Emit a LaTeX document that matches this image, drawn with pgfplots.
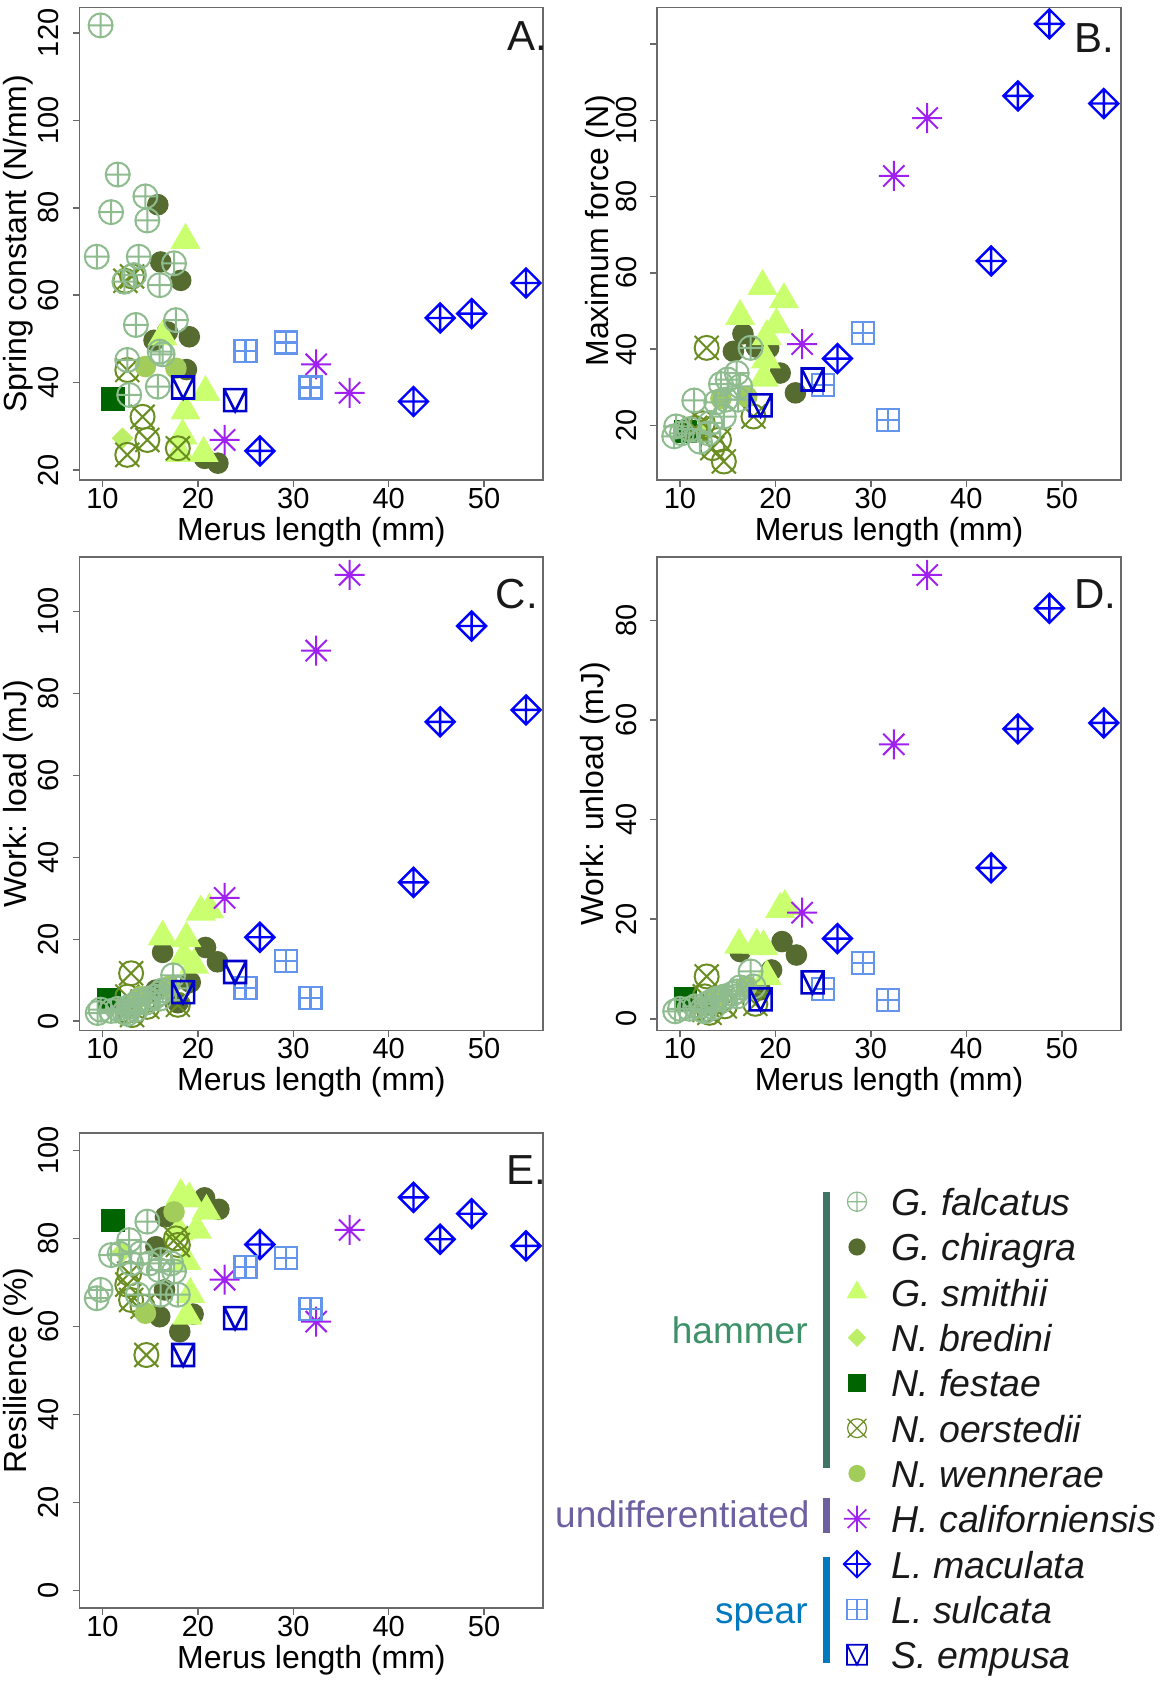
\documentclass[border=0pt]{standalone}
\usepackage{fontspec}
\setmainfont{Liberation Sans}
\usepackage{pgfplots}
\pgfplotsset{compat=1.18}

% ---------- colours ----------
\definecolor{cF}{RGB}{143,188,143}
\definecolor{cC}{RGB}{85,107,47}
\definecolor{cS}{RGB}{202,255,112}
\definecolor{cB}{RGB}{188,238,104}
\definecolor{cN}{RGB}{0,100,0}
\definecolor{cO}{RGB}{107,142,35}
\definecolor{cW}{RGB}{162,205,90}
\definecolor{cH}{RGB}{160,32,240}
\definecolor{cM}{RGB}{0,0,255}
\definecolor{cL}{RGB}{100,149,237}
\definecolor{cE}{RGB}{0,0,205}
\definecolor{frame}{RGB}{105,105,105}
\definecolor{txt}{RGB}{25,25,25}
\definecolor{gHamTxt}{RGB}{60,145,105}
\definecolor{gHamBar}{RGB}{62,117,102}
\definecolor{gUnd}{RGB}{110,96,160}
\definecolor{gSpr}{RGB}{0,121,191}

% ---------- fonts ----------
\newcommand{\tickfont}{\fontsize{14.5pt}{17pt}\selectfont}
\newcommand{\labfont}{\fontsize{16pt}{19pt}\selectfont}
\newcommand{\legfont}{\fontsize{18.75pt}{22pt}\selectfont\itshape}
\newcommand{\grpfont}{\fontsize{18.5pt}{22pt}\selectfont}
\newcommand{\letfont}{\fontsize{21pt}{25pt}\selectfont}

% ---------- plot symbols in the style of R's pch ----------
\pgfdeclareplotmark{Rdot}{\pgfpathcircle{\pgfpointorigin}{\pgfplotmarksize}\pgfusepathqfill}
\pgfdeclareplotmark{Rtri}{%
  \pgfpathmoveto{\pgfqpoint{0pt}{\pgfplotmarksize}}%
  \pgfpathlineto{\pgfqpoint{.8660254\pgfplotmarksize}{-.5\pgfplotmarksize}}%
  \pgfpathlineto{\pgfqpoint{-.8660254\pgfplotmarksize}{-.5\pgfplotmarksize}}%
  \pgfpathclose\pgfusepathqfill}
\pgfdeclareplotmark{Rdiam}{%
  \pgfpathmoveto{\pgfqpoint{0pt}{\pgfplotmarksize}}%
  \pgfpathlineto{\pgfqpoint{\pgfplotmarksize}{0pt}}%
  \pgfpathlineto{\pgfqpoint{0pt}{-\pgfplotmarksize}}%
  \pgfpathlineto{\pgfqpoint{-\pgfplotmarksize}{0pt}}%
  \pgfpathclose\pgfusepathqfill}
\pgfdeclareplotmark{Rsq}{%
  \pgfpathrectanglecorners{\pgfqpoint{-\pgfplotmarksize}{-\pgfplotmarksize}}{\pgfqpoint{\pgfplotmarksize}{\pgfplotmarksize}}%
  \pgfusepathqfill}
\pgfdeclareplotmark{Rcplus}{%
  \pgfpathcircle{\pgfpointorigin}{\pgfplotmarksize}%
  \pgfpathmoveto{\pgfqpoint{-\pgfplotmarksize}{0pt}}\pgfpathlineto{\pgfqpoint{\pgfplotmarksize}{0pt}}%
  \pgfpathmoveto{\pgfqpoint{0pt}{-\pgfplotmarksize}}\pgfpathlineto{\pgfqpoint{0pt}{\pgfplotmarksize}}%
  \pgfusepathqstroke}
\pgfdeclareplotmark{Rcx}{%
  \pgfpathcircle{\pgfpointorigin}{\pgfplotmarksize}%
  \pgfpathmoveto{\pgfqpoint{-\pgfplotmarksize}{-\pgfplotmarksize}}\pgfpathlineto{\pgfqpoint{\pgfplotmarksize}{\pgfplotmarksize}}%
  \pgfpathmoveto{\pgfqpoint{-\pgfplotmarksize}{\pgfplotmarksize}}\pgfpathlineto{\pgfqpoint{\pgfplotmarksize}{-\pgfplotmarksize}}%
  \pgfusepathqstroke}
\pgfdeclareplotmark{Rdplus}{%
  \pgfpathmoveto{\pgfqpoint{0pt}{\pgfplotmarksize}}%
  \pgfpathlineto{\pgfqpoint{\pgfplotmarksize}{0pt}}%
  \pgfpathlineto{\pgfqpoint{0pt}{-\pgfplotmarksize}}%
  \pgfpathlineto{\pgfqpoint{-\pgfplotmarksize}{0pt}}%
  \pgfpathclose
  \pgfpathmoveto{\pgfqpoint{-\pgfplotmarksize}{0pt}}\pgfpathlineto{\pgfqpoint{\pgfplotmarksize}{0pt}}%
  \pgfpathmoveto{\pgfqpoint{0pt}{-\pgfplotmarksize}}\pgfpathlineto{\pgfqpoint{0pt}{\pgfplotmarksize}}%
  \pgfusepathqstroke}
\pgfdeclareplotmark{Rsplus}{%
  \pgfpathrectanglecorners{\pgfqpoint{-\pgfplotmarksize}{-\pgfplotmarksize}}{\pgfqpoint{\pgfplotmarksize}{\pgfplotmarksize}}%
  \pgfpathmoveto{\pgfqpoint{-\pgfplotmarksize}{0pt}}\pgfpathlineto{\pgfqpoint{\pgfplotmarksize}{0pt}}%
  \pgfpathmoveto{\pgfqpoint{0pt}{-\pgfplotmarksize}}\pgfpathlineto{\pgfqpoint{0pt}{\pgfplotmarksize}}%
  \pgfusepathqstroke}
\pgfdeclareplotmark{RsV}{%
  \pgfpathrectanglecorners{\pgfqpoint{-\pgfplotmarksize}{-\pgfplotmarksize}}{\pgfqpoint{\pgfplotmarksize}{\pgfplotmarksize}}%
  \pgfpathmoveto{\pgfqpoint{-\pgfplotmarksize}{\pgfplotmarksize}}%
  \pgfpathlineto{\pgfqpoint{0pt}{-\pgfplotmarksize}}%
  \pgfpathlineto{\pgfqpoint{\pgfplotmarksize}{\pgfplotmarksize}}%
  \pgfusepathqstroke}
\pgfdeclareplotmark{Rast}{%
  \pgfpathmoveto{\pgfqpoint{-\pgfplotmarksize}{0pt}}\pgfpathlineto{\pgfqpoint{\pgfplotmarksize}{0pt}}%
  \pgfpathmoveto{\pgfqpoint{0pt}{-\pgfplotmarksize}}\pgfpathlineto{\pgfqpoint{0pt}{\pgfplotmarksize}}%
  \pgfpathmoveto{\pgfqpoint{-.7071\pgfplotmarksize}{-.7071\pgfplotmarksize}}\pgfpathlineto{\pgfqpoint{.7071\pgfplotmarksize}{.7071\pgfplotmarksize}}%
  \pgfpathmoveto{\pgfqpoint{-.7071\pgfplotmarksize}{.7071\pgfplotmarksize}}\pgfpathlineto{\pgfqpoint{.7071\pgfplotmarksize}{-.7071\pgfplotmarksize}}%
  \pgfusepathqstroke}

\tikzset{
  letter/.style={font=\letfont, anchor=base east, inner sep=0pt, text=txt},
  legtxt/.style={anchor=base west, inner sep=0pt, xshift=17pt, yshift=-7pt, font=\legfont, text=txt},
}

\pgfplotsset{
  sp-c/.style={only marks, mark=Rdot,   mark size=5.4pt,  color=cC},
  sp-s/.style={only marks, mark=Rtri,   mark size=8.66pt, color=cS},
  sp-b/.style={only marks, mark=Rdiam,  mark size=5.4pt,  color=cB},
  sp-n/.style={only marks, mark=Rsq,    mark size=5.9pt,  color=cN},
  sp-o/.style={only marks, mark=Rcx,    mark size=6pt,    color=cO, line width=1pt},
  sp-w/.style={only marks, mark=Rdot,   mark size=5.4pt,  color=cW},
  sp-f/.style={only marks, mark=Rcplus, mark size=6pt,    color=cF, line width=1pt},
  sp-h/.style={only marks, mark=Rast,   mark size=7.5pt,  color=cH, line width=1pt},
  sp-m/.style={only marks, mark=Rdplus, mark size=7.25pt, color=cM, line width=1.2pt},
  sp-l/.style={only marks, mark=Rsplus, mark size=5.5pt,  color=cL, line width=1.1pt},
  sp-e/.style={only marks, mark=RsV,    mark size=5.5pt,  color=cE, line width=1.3pt},
  Rpanel/.style={
    scale only axis, anchor=south west, clip mode=individual,
    xmin=7.6, xmax=56.2, xtick={10,20,30,40,50},
    tick align=outside, tick pos=left, major tick length=3.5pt,
    every tick/.style={draw=frame, line width=0.75pt},
    axis line style={draw=frame, line width=0.9pt},
    /pgf/number format/assume math mode=true,
    scaled ticks=false,
    ticklabel style={font=\tickfont, text=black},
    xticklabel style={anchor=center, yshift=-5.7pt},
    yticklabel style={xshift=-11.9pt, rotate=90, anchor=center},
    every axis x label/.style={at={(axis description cs:0.5,0)}, anchor=center, yshift=-26pt, font=\labfont, text=black},
    every axis y label/.style={at={(axis description cs:0,0.5)}, xshift=-30.7pt, rotate=90, anchor=center, font=\labfont, text=black},
    xlabel={Merus length (mm)},
  },
}

\begin{document}
\begin{tikzpicture}
\path[use as bounding box] (0,0) rectangle (582.5pt,843pt);

% ================= A: spring constant =================
\begin{axis}[Rpanel, at={(39.8pt,603.1pt)}, width=231.8pt, height=236.15pt,
  ymin=17.8, ymax=125.8, ytick={20,40,60,80,100,120}, ylabel={Spring constant (N/mm)}]
\addplot[sp-c] coordinates {(15.8,80.7) (16.1,67.6) (18.2,63.4) (15.4,49.7) (19.1,50.5) (16.8,51.6) (22.1,21.6) (20.7,22.7) (18.8,43.0)};
\addplot[sp-s] coordinates {(18.7,72.6) (16.3,50.5) (20.8,37.8) (18.7,33.6) (18.4,27.9) (20.6,23.9) (18.1,23.9)};
\addplot[sp-b] coordinates {(12.1,27.3)};
\addplot[sp-n] coordinates {(11.1,36.3)};
\addplot[sp-o] coordinates {(12.4,63.3) (13.1,64.3) (12.6,42.9) (14.2,32.2) (14.7,26.9) (12.6,23.5) (17.9,25.0)};
\addplot[sp-w] coordinates {(14.5,43.7) (17.7,43.3)};
\addplot[sp-f] coordinates {(9.8,121.7) (11.6,87.6) (14.5,82.6) (10.9,79.0) (14.7,77.1) (9.4,68.8) (13.8,68.8) (17.5,67.3) (12.3,63.1) (13.3,64.6) (16.0,62.3) (13.5,53.2) (17.7,54.3) (16.0,47.1) (16.3,46.5) (12.6,45.2) (15.8,39.1) (12.8,37.2)};
\addplot[sp-h] coordinates {(22.8,26.9) (32.4,44.2) (35.9,37.7)};
\addplot[sp-m] coordinates {(26.5,24.4) (42.6,35.7) (45.4,54.8) (48.7,55.8) (54.4,62.8)};
\addplot[sp-l] coordinates {(25.0,47.3) (29.2,49.2) (31.8,38.9)};
\addplot[sp-e] coordinates {(18.45,38.9) (23.9,36.0)};
\node[letter, xshift=2pt, yshift=-21.5pt] at (rel axis cs:1,1) {A.};
\end{axis}

% ================= B: maximum force =================
\begin{axis}[Rpanel, at={(328.5pt,603.1pt)}, width=232pt, height=236.15pt,
  ymin=5.7, ymax=129.6, ytick={20,40,60,80,100,120}, yticklabels={20,40,60,80,100,{}},
  ylabel={Maximum force (N)}, ylabel style={at={(axis description cs:0.0095,0.5275)}}]
\addplot[sp-c] coordinates {(16.6,44.0) (15.6,39.4) (19.3,40.3) (20.5,33.7) (22.1,28.5) (18.0,40.5)};
\addplot[sp-s] coordinates {(18.65,56.5) (20.9,53.0) (16.3,48.6) (20.1,46.4) (19.1,43.3) (19.0,37.2) (18.8,32.4)};
\addplot[sp-b] coordinates {(12.3,18.0)};
\addplot[sp-n] coordinates {(10.6,18.4)};
\addplot[sp-o] coordinates {(12.8,40.3) (17.7,22.3) (14.6,10.5) (14.1,16.2) (12.4,20.5) (13.4,14.0) (11.6,19.3)};
\addplot[sp-w] coordinates {(14.3,27.0) (17.0,27.5)};
\addplot[sp-f] coordinates {(17.4,40.3) (15.95,33.7) (14.3,30.8) (16.3,30.2) (15.0,32.0) (11.5,26.5) (14.8,26.7) (13.8,26.0) (14.6,22.3) (16.1,26.7) (9.6,19.7) (9.4,17.1) (12.1,15.7) (13.2,20.6) (10.2,17.9) (13.0,17.9) (11.0,19.0)};
\addplot[sp-h] coordinates {(22.8,41.3) (32.4,85.4) (35.9,100.6)};
\addplot[sp-m] coordinates {(26.5,37.5) (42.6,63.1) (45.4,106.4) (48.7,125.3) (54.4,104.4)};
\addplot[sp-l] coordinates {(25.0,30.5) (29.2,44.2) (31.8,21.4)};
\addplot[sp-e] coordinates {(18.45,25.2) (23.9,32.0)};
\node[letter, xshift=-3pt, yshift=-22.5pt] at (rel axis cs:1,1) {B.};
\end{axis}

% ================= C: work on loading =================
\begin{axis}[Rpanel, at={(39.8pt,327.75pt)}, width=231.8pt, height=236.65pt,
  ymin=-2.27, ymax=113.3, ytick={0,20,40,60,80,100}, ylabel={Work: load (mJ)}]
\addplot[sp-c] coordinates {(16.3,16.8) (20.8,18.0) (22.05,14.5) (15.6,7.6) (17.9,4.5) (19.2,9.5)};
\addplot[sp-s] coordinates {(20.3,26.7) (21.2,27.2) (16.3,20.6) (18.8,20.2) (18.55,15.8) (19.6,13.7)};
\addplot[sp-b] coordinates {(12.1,3.5)};
\addplot[sp-n] coordinates {(10.7,5.2)};
\addplot[sp-o] coordinates {(13.0,11.7) (14.7,3.5) (12.6,2.5) (17.9,4.0) (14.2,4.8) (12.6,6.0) (13.1,1.5)};
\addplot[sp-w] coordinates {(14.0,6.0) (17.0,8.5)};
\addplot[sp-f] coordinates {(9.5,2.0) (9.8,2.8) (10.9,2.5) (11.6,3.0) (12.3,2.2) (12.8,3.5) (13.3,4.0) (13.5,2.8) (13.8,5.0) (14.5,4.5) (14.7,5.5) (15.5,6.0) (16.0,6.8) (16.0,5.5) (16.3,7.5) (17.4,11.2) (17.7,8.0) (12.6,1.8)};
\addplot[sp-h] coordinates {(22.8,30.1) (32.4,90.5) (35.9,109.0)};
\addplot[sp-m] coordinates {(26.5,20.5) (42.6,33.9) (45.4,73.1) (48.7,96.5) (54.4,76.0)};
\addplot[sp-l] coordinates {(25.0,8.1) (29.2,14.7) (31.8,5.7)};
\addplot[sp-e] coordinates {(18.45,7.1) (23.9,12.0)};
\node[letter, xshift=-2.5pt, yshift=-25.8pt] at (rel axis cs:1,1) {C.};
\end{axis}

% ================= D: work on unloading =================
\begin{axis}[Rpanel, at={(328.5pt,327.75pt)}, width=232pt, height=236.65pt,
  ymin=-2.35, ymax=92.67, ytick={0,20,40,60,80}, ylabel={Work: unload (mJ)}]
\addplot[sp-c] coordinates {(20.7,15.5) (22.2,12.8) (16.3,13.5) (19.6,9.8) (18.4,5.8)};
\addplot[sp-s] coordinates {(20.5,22.0) (21.0,22.6) (16.2,14.8) (18.05,14.8) (18.75,14.5) (19.1,8.5)};
\addplot[sp-b] coordinates {(12.1,2.5)};
\addplot[sp-n] coordinates {(10.6,4.0)};
\addplot[sp-o] coordinates {(12.8,8.5) (14.7,2.5) (12.6,1.8) (17.9,3.0) (14.2,3.5) (12.6,4.5) (13.1,1.2)};
\addplot[sp-w] coordinates {(14.0,4.5) (17.0,6.5)};
\addplot[sp-f] coordinates {(9.5,1.5) (10.0,2.0) (11.0,2.0) (11.6,2.5) (12.3,1.8) (12.8,3.0) (13.3,3.5) (13.5,2.3) (13.8,4.0) (14.5,3.8) (14.7,4.5) (15.5,5.0) (16.0,5.5) (16.0,4.5) (16.3,6.3) (17.4,9.5) (17.7,6.5) (12.6,1.5)};
\addplot[sp-h] coordinates {(22.8,21.3) (32.4,55.1) (35.9,89.1)};
\addplot[sp-m] coordinates {(26.5,16.1) (42.6,30.3) (45.4,58.2) (48.7,82.4) (54.4,59.4)};
\addplot[sp-l] coordinates {(25.0,6.0) (29.2,11.2) (31.8,3.7)};
\addplot[sp-e] coordinates {(18.45,3.9) (23.9,7.3)};
\node[letter, xshift=-2pt, yshift=-25.8pt] at (rel axis cs:1,1) {D.};
\end{axis}

% ================= E: resilience =================
\begin{axis}[Rpanel, at={(39.8pt,38.9pt)}, width=231.8pt, height=237.75pt,
  ymin=-4, ymax=104, ytick={0,20,40,60,80,100}, ylabel={Resilience (\%)}]
\addplot[sp-c] coordinates {(20.7,89.2) (22.2,86.6) (16.6,84.9) (16.0,62.2) (18.1,58.8) (19.5,62.8) (15.6,78.1) (16.5,68.3)};
\addplot[sp-s] coordinates {(18.2,89.8) (19.1,89.0) (20.9,86.2) (19.9,81.9) (18.8,74.8) (19.2,67.3) (18.9,62.4) (18.0,81.5)};
\addplot[sp-b] coordinates {(12.1,77.0)};
\addplot[sp-n] coordinates {(11.1,84.1)};
\addplot[sp-o] coordinates {(17.9,78.5) (12.6,69.5) (13.0,66.0) (14.2,64.5) (12.8,72.0) (17.7,80.0) (14.6,53.5)};
\addplot[sp-w] coordinates {(17.5,86.0) (14.5,63.0)};
\addplot[sp-f] coordinates {(14.7,83.8) (12.8,79.6) (10.9,76.2) (11.8,76.5) (14.0,76.6) (13.0,74.3) (14.9,74.3) (16.1,75.1) (17.2,74.3) (15.9,72.8) (9.8,68.3) (9.4,66.4) (13.7,67.2) (16.1,67.2) (17.9,67.2) (17.5,72.5)};
\addplot[sp-h] coordinates {(22.8,70.6) (32.4,61.1) (35.9,81.9)};
\addplot[sp-m] coordinates {(26.5,78.6) (42.6,89.3) (45.4,79.8) (48.7,85.6) (54.4,78.3)};
\addplot[sp-l] coordinates {(25.0,73.5) (29.2,75.6) (31.8,64.0)};
\addplot[sp-e] coordinates {(18.45,53.5) (23.9,61.9)};
\node[letter, xshift=1.7pt, yshift=-26pt] at (rel axis cs:1,1) {E.};
\end{axis}

% ================= species key =================
\begin{axis}[hide axis, scale only axis, anchor=south west, at={(428.5pt,15.65pt)},
  width=10pt, height=226.5pt, xmin=0, xmax=1, ymin=-10, ymax=0, clip=false]
\addplot[sp-f, mark size=4.8pt, line width=0.6pt] coordinates {(0,0)};
\addplot[sp-c, mark size=4.3pt] coordinates {(0,-1)};
\addplot[sp-s, mark size=6pt] coordinates {(0,-2)};
\addplot[sp-b, mark size=4.6pt] coordinates {(0,-3)};
\addplot[sp-n, mark size=4.5pt] coordinates {(0,-4)};
\addplot[sp-o, mark size=4.7pt, line width=0.6pt] coordinates {(0,-5)};
\addplot[sp-w, mark size=4.3pt] coordinates {(0,-6)};
\addplot[sp-h, mark size=6.6pt, line width=0.8pt] coordinates {(0,-7)};
\addplot[sp-m, mark size=6.6pt, line width=0.9pt] coordinates {(0,-8)};
\addplot[sp-l, mark size=5pt, line width=0.7pt] coordinates {(0,-9)};
\addplot[sp-e, mark size=5pt, line width=0.9pt] coordinates {(0,-10)};
\node[legtxt] at (axis cs:0,0)   {G. falcatus};
\node[legtxt] at (axis cs:0,-1)  {G. chiragra};
\node[legtxt] at (axis cs:0,-2)  {G. smithii};
\node[legtxt] at (axis cs:0,-3)  {N. bredini};
\node[legtxt] at (axis cs:0,-4)  {N. festae};
\node[legtxt] at (axis cs:0,-5)  {N. oerstedii};
\node[legtxt] at (axis cs:0,-6)  {N. wennerae};
\node[legtxt] at (axis cs:0,-7)  {H. californiensis};
\node[legtxt] at (axis cs:0,-8)  {L. maculata};
\node[legtxt] at (axis cs:0,-9)  {L. sulcata};
\node[legtxt] at (axis cs:0,-10) {S. empusa};
\end{axis}

% group brackets and names
\draw[gHamBar, line width=3.5pt] (413pt,247.15pt) -- (413pt,108.85pt);
\draw[gUnd,    line width=3.5pt] (413pt,94pt) -- (413pt,76.5pt);
\draw[gSpr,    line width=3.5pt] (413pt,64.65pt) -- (413pt,11.35pt);
\node[anchor=base east, inner sep=0pt, font=\grpfont, text=gHamTxt] at (404pt,171pt) {hammer};
\node[anchor=base east, inner sep=0pt, font=\grpfont, text=gUnd]    at (405pt,79.2pt) {undifferentiated};
\node[anchor=base east, inner sep=0pt, font=\grpfont, text=gSpr]    at (404pt,31pt) {spear};
\end{tikzpicture}
\end{document}
